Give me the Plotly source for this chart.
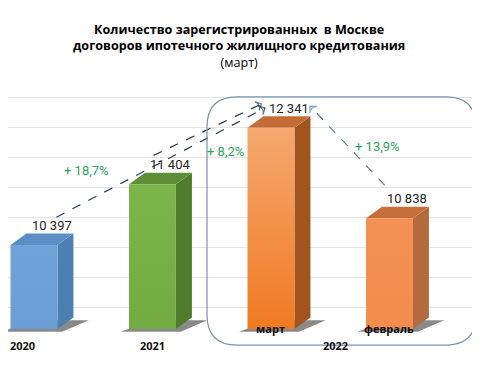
import plotly.graph_objects as go

# ---- data ----
categories = ["2020", "2021", "март", "февраль"]
group_labels = ["2020", "2021", "2022"]
values = [10397, 11404, 12341, 10838]
value_labels = ["10 397", "11 404", "12 341", "10 838"]

front_top = ["#6fa3d9", "#7cb54c", "#f5a870", "#f49155"]
front_bot = ["#6a9ed4", "#73ab43", "#f07a22", "#f38c4c"]
side_col = ["#4e7fb3", "#507d2d", "#a3541f", "#b36a3c"]
top_col = ["#5b8dc7", "#5f8e39", "#c46c37", "#c66f3b"]

FLOOR = 9000
DX = 0.135      # depth offset in x units
DY = 191        # depth offset in y units
HW = 0.198      # half width

fig = go.Figure()
xs = list(range(len(values)))

# shadows
for i, v in zip(xs, values):
    xl, xr = i - HW, i + HW
    fig.add_trace(go.Scatter(
        x=[xl - 0.07, xr + 0.04, xr + DX + 0.13, xl + DX + 0.05, xl - 0.07],
        y=[FLOOR - 45, FLOOR - 45, FLOOR + DY * 0.75, FLOOR + DY * 0.75, FLOOR - 45],
        fill="toself", mode="none", fillcolor="rgba(40,40,40,0.55)",
        hoverinfo="skip", showlegend=False))

# 3D bars
for i, v in zip(xs, values):
    xl, xr = i - HW, i + HW
    fig.add_trace(go.Scatter(
        x=[xr, xr, xr + DX, xr + DX, xr], y=[FLOOR, v, v + DY, FLOOR + DY, FLOOR],
        fill="toself", mode="none", fillcolor=side_col[i],
        hoverinfo="skip", showlegend=False))
    fig.add_trace(go.Scatter(
        x=[xl, xr, xr + DX, xl + DX, xl], y=[v, v, v + DY, v + DY, v],
        fill="toself", mode="none", fillcolor=top_col[i],
        hoverinfo="skip", showlegend=False))
    fig.add_trace(go.Scatter(
        x=[xl, xr, xr, xl, xl], y=[FLOOR, FLOOR, v, v, FLOOR],
        fill="toself", mode="none",
        fillgradient=dict(type="vertical",
                          colorscale=[[0, front_bot[i]], [1, front_top[i]]]),
        hoverinfo="skip", showlegend=False))

# value labels
for i, v in zip(xs, values):
    fig.add_annotation(x=i + DX, xshift=2, y=v + DY, text=value_labels[i], showarrow=False,
                       yanchor="middle", yshift=8,
                       font=dict(family="Liberation Sans Narrow, Roboto", size=13, color="#262626"))

# dashed arrows
def arrow(x0, y0, x1, y1, color):
    fig.add_trace(go.Scatter(
        x=[x0, x1], y=[y0, y1], mode="lines+markers", cliponaxis=False,
        line=dict(color=color, width=1.2, dash="dash"),
        marker=dict(symbol=["circle", "arrow-wide-open"], size=[0, 7],
                    angleref="previous", color=color, line=dict(color=color, width=1.2)),
        hoverinfo="skip", showlegend=False))

arrow(0 + 0.19, values[0] + 460, 2 - 0.05, values[2] + 330, "#1f3a60")
arrow(1 + 0.01, values[1] + 480, 2 - 0.08, values[2] + 397, "#1f3a60")
arrow(3 - 0.04, values[3] + 550, 2 + 0.33, values[2] + 360, "#5a7ea6")

# percent labels
def pct(a, b):
    return "+ " + f"{(a / b - 1) * 100:.1f}".replace(".", ",") + "%"

green = "#2aa45a"
pfont = dict(family="Liberation Sans Narrow, Roboto", size=13, color=green)
fig.add_annotation(x=0.44, y=11625, text=pct(values[2], values[0]), showarrow=False, font=pfont)
fig.add_annotation(x=1.62, y=11940, text=pct(values[2], values[1]), showarrow=False, font=pfont)
fig.add_annotation(x=2.90, y=12023, text=pct(values[2], values[3]), showarrow=False, font=pfont)

# category labels
cfont = dict(family="Open Sans, Noto Sans", size=11, color="#111111")
fig.add_annotation(x=0, xshift=-11, y=-0.084, yref="paper", text="<b>" + group_labels[0] + "</b>", showarrow=False, font=cfont)
fig.add_annotation(x=1, y=-0.084, yref="paper", text="<b>" + group_labels[1] + "</b>", showarrow=False, font=cfont)
fig.add_annotation(x=2.5, xshift=5, y=-0.084, yref="paper", text="<b>" + group_labels[2] + "</b>", showarrow=False, font=cfont)
fig.add_annotation(x=2, y=-0.013, yref="paper", text="<b>" + categories[2] + "</b>", showarrow=False, font=cfont)
fig.add_annotation(x=3, y=-0.013, yref="paper", text="<b>" + categories[3] + "</b>", showarrow=False, font=cfont)

# title
fig.add_annotation(x=0.4915, xref="paper", y=1.211, yref="paper", showarrow=False, yanchor="middle",
                   text="<b>Количество зарегистрированных  в Москве<br>договоров ипотечного жилищного кредитования</b><br>(март)",
                   font=dict(family="Open Sans, Noto Sans", size=12.6, color="#000000"))

# rounded box around 2022
x0, x1, y0, y1 = 0.4234, 0.9957, -0.042, 0.996
rx, ry = 0.064, 0.126
path = (f"M {x0+rx},{y1} L {x1-rx},{y1} Q {x1},{y1} {x1},{y1-ry} L {x1},{y0+ry} "
        f"Q {x1},{y0} {x1-rx},{y0} L {x0+rx},{y0} Q {x0},{y0} {x0},{y0+ry} "
        f"L {x0},{y1-ry} Q {x0},{y1} {x0+rx},{y1} Z")
fig.add_shape(type="path", path=path, xref="paper", yref="paper",
              line=dict(color="#7393b3", width=1.2), layer="above")

fig.update_layout(
    width=480, height=367,
    margin=dict(l=0, r=10, t=88, b=40, autoexpand=False),
    paper_bgcolor="white", plot_bgcolor="white",
    showlegend=False,
    xaxis=dict(range=[-0.219, 3.747], visible=False, fixedrange=True),
    yaxis=dict(range=[8900, 12870], tick0=9350, dtick=500, showgrid=True,
               gridcolor="#e4e4e4", gridwidth=1, showticklabels=False,
               zeroline=False, showline=False, ticks=""),
)

fig.write_html("out.html")
